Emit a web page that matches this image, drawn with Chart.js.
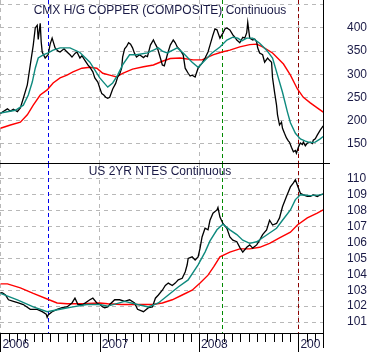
<!DOCTYPE html>
<html>
<head>
<meta charset="utf-8">
<script src="https://cdn.jsdelivr.net/npm/chart.js@4/dist/chart.umd.min.js"></script>
<style>
body { margin: 0; background: #fff; }
#quadro { position: relative; width: 371px; height: 352px; }
canvas { position: absolute; left: 0; }
#cobre { top: 0; }
#notas { top: 164px; }
</style>
</head>
<body>
<div id="quadro">
<canvas id="cobre" width="371" height="164"></canvas>
<canvas id="notas" width="371" height="188"></canvas>
</div>
<script>
// Dados (datas em ano decimal)

const anos = ['2006', '2007', '2008', '2009']

// Cobre - preço
const datasCobre = [
    2006.00, 2006.02, 2006.07, 2006.10, 2006.13, 2006.17, 2006.20, 2006.23, 2006.27, 2006.30,
    2006.33, 2006.35, 2006.37, 2006.38, 2006.40, 2006.41, 2006.42, 2006.45, 2006.48, 2006.50,
    2006.52, 2006.55, 2006.58, 2006.60, 2006.64, 2006.67, 2006.70, 2006.72, 2006.75, 2006.77,
    2006.80, 2006.82, 2006.85, 2006.88, 2006.90, 2006.93, 2006.95, 2006.98, 2007.00, 2007.02,
    2007.04, 2007.06, 2007.08, 2007.10, 2007.13, 2007.16, 2007.18, 2007.20, 2007.22, 2007.23,
    2007.25, 2007.27, 2007.29, 2007.31, 2007.33, 2007.35, 2007.37, 2007.40, 2007.44, 2007.46,
    2007.48, 2007.51, 2007.54, 2007.56, 2007.58, 2007.61, 2007.63, 2007.65, 2007.68, 2007.71,
    2007.74, 2007.76, 2007.78, 2007.81, 2007.84, 2007.86, 2007.89, 2007.91, 2007.93, 2007.96,
    2007.99, 2008.03, 2008.06, 2008.09, 2008.11, 2008.14, 2008.16, 2008.18, 2008.21, 2008.24,
    2008.26, 2008.28, 2008.31, 2008.34, 2008.36, 2008.38, 2008.41, 2008.44, 2008.46, 2008.48,
    2008.49, 2008.51, 2008.54, 2008.56, 2008.58, 2008.59, 2008.61, 2008.64, 2008.66, 2008.69,
    2008.71, 2008.73, 2008.74, 2008.76, 2008.78, 2008.79, 2008.81, 2008.83, 2008.84, 2008.86,
    2008.88, 2008.90, 2008.91, 2008.93, 2008.95, 2008.97, 2008.98, 2009.00, 2009.02, 2009.04,
    2009.05, 2009.07, 2009.09, 2009.12, 2009.14, 2009.15, 2009.17, 2009.19, 2009.22, 2009.25
]
const precoCobre = [
    215, 218, 225, 220, 224, 219, 227, 248, 277, 320,
    363, 400, 406, 375, 410, 370, 348, 335, 342, 365,
    378, 357, 350, 348, 355, 348, 342, 337, 345, 348,
    335, 340, 330, 320, 315, 305, 292, 283, 270, 258,
    255, 250, 248, 250, 268, 280, 294, 300, 313, 337,
    355, 360, 368, 365, 357, 345, 337, 342, 336, 340,
    338, 363, 374, 365, 357, 335, 320, 318, 342, 363,
    374, 368, 359, 352, 342, 313, 302, 296, 298, 294,
    313, 324, 335, 348, 363, 385, 398, 396, 378, 389,
    398, 400, 396, 385, 380, 374, 368, 380, 378, 390,
    412, 378, 374, 376, 370, 357, 346, 342, 326, 335,
    330, 326, 292, 261, 233, 212, 190, 196, 183, 172,
    162, 155, 153, 142, 132, 135, 129, 142, 151, 148,
    153, 145, 151, 153, 150, 157, 160, 168, 179, 188
]

// Cobre - média curta (verde)
const datasMediaCurtaCobre = [
    2006.00, 2006.15, 2006.23, 2006.28, 2006.32, 2006.35, 2006.38, 2006.43, 2006.48, 2006.53,
    2006.60, 2006.70, 2006.80, 2006.90, 2007.00, 2007.08, 2007.13, 2007.18, 2007.23, 2007.30,
    2007.37, 2007.48, 2007.54, 2007.59, 2007.63, 2007.68, 2007.78, 2007.84, 2007.93, 2007.99,
    2008.04, 2008.13, 2008.21, 2008.28, 2008.34, 2008.39, 2008.43, 2008.48, 2008.54, 2008.61,
    2008.68, 2008.74, 2008.79, 2008.84, 2008.89, 2008.92, 2008.97, 2009.02, 2009.07, 2009.12,
    2009.17, 2009.22, 2009.25
]
const mediaCurtaCobre = [
    216, 222, 233, 255, 283, 313, 335, 342, 346, 352,
    357, 357, 347, 326, 292, 272, 281, 298, 320, 342,
    342, 346, 352, 357, 350, 346, 357, 346, 326, 315,
    326, 346, 359, 374, 380, 378, 372, 378, 378, 367,
    352, 335, 298, 261, 218, 195, 172, 160, 155, 152,
    153, 160, 165
]

// Cobre - média longa (vermelha)
const datasMediaLongaCobre = [
    2006.00, 2006.10, 2006.20, 2006.27, 2006.33, 2006.40, 2006.47, 2006.53, 2006.60, 2006.67,
    2006.73, 2006.82, 2006.90, 2006.97, 2007.03, 2007.10, 2007.17, 2007.23, 2007.33, 2007.44,
    2007.54, 2007.63, 2007.71, 2007.81, 2007.94, 2008.03, 2008.14, 2008.23, 2008.31, 2008.41,
    2008.51, 2008.58, 2008.64, 2008.74, 2008.85, 2008.92, 2008.99, 2009.05, 2009.12, 2009.19,
    2009.25
]
const mediaLongaCobre = [
    183, 190, 196, 212, 233, 255, 266, 281, 292, 298,
    305, 313, 315, 313, 302, 298, 294, 302, 311, 316,
    320, 328, 334, 335, 331, 331, 342, 348, 352, 359,
    364, 365, 359, 346, 322, 298, 268, 250, 238, 227,
    218
]

// Notas de 2 anos - preço
const datasNotas = [
    2006.00, 2006.02, 2006.05, 2006.08, 2006.13, 2006.18, 2006.23, 2006.30, 2006.37, 2006.42,
    2006.46, 2006.47, 2006.48, 2006.52, 2006.57, 2006.62, 2006.67, 2006.72, 2006.75, 2006.78,
    2006.83, 2006.90, 2006.93, 2006.97, 2007.00, 2007.03, 2007.05, 2007.08, 2007.10, 2007.15,
    2007.20, 2007.25, 2007.30, 2007.35, 2007.38, 2007.44, 2007.49, 2007.53, 2007.56, 2007.59,
    2007.63, 2007.66, 2007.69, 2007.73, 2007.76, 2007.79, 2007.83, 2007.86, 2007.88, 2007.89,
    2007.93, 2007.96, 2007.99, 2008.01, 2008.03, 2008.06, 2008.09, 2008.11, 2008.14, 2008.18,
    2008.19, 2008.21, 2008.24, 2008.28, 2008.31, 2008.34, 2008.38, 2008.41, 2008.44, 2008.48,
    2008.51, 2008.54, 2008.58, 2008.61, 2008.64, 2008.68, 2008.71, 2008.74, 2008.78, 2008.81,
    2008.84, 2008.88, 2008.92, 2008.95, 2008.97, 2008.99, 2009.02, 2009.05, 2009.09, 2009.12,
    2009.15, 2009.19, 2009.22, 2009.25
]
const precoNotas = [
    102.85, 102.83, 102.7, 102.4, 102.3, 102.2, 102.1, 101.8, 101.8, 101.65,
    101.5, 101.3, 101.45, 101.65, 101.8, 101.9, 101.95, 102.2, 102.5, 102.1,
    102.1, 102.4, 102.5, 102.2, 102.1, 101.95, 101.9, 101.95, 102.1, 102.4,
    102.4, 102.3, 102.4, 102.2, 101.8, 101.65, 101.9, 101.95, 102.5, 102.7,
    103.0, 103.3, 103.45, 103.3, 103.45, 103.65, 103.75, 104.15, 104.6, 105.0,
    105.1, 104.9, 105.1, 105.65, 106.35, 106.9, 106.8, 107.4, 107.85, 108.05,
    108.2, 107.6, 107.2, 106.9, 106.35, 106.15, 106.05, 105.7, 105.4, 105.7,
    105.85, 105.65, 105.85, 106.15, 106.5, 106.8, 107.4, 107.1, 107.2, 107.55,
    108.25, 108.9, 109.5, 109.75, 109.95, 109.6, 109.1, 109.0, 108.9, 108.9,
    109.0, 108.9, 109.0, 109.05
]

// Notas - média curta (verde)
const datasMediaCurtaNotas = [
    2006.00, 2006.17, 2006.33, 2006.47, 2006.60, 2006.73, 2006.87, 2007.00, 2007.08, 2007.25,
    2007.38, 2007.49, 2007.59, 2007.69, 2007.79, 2007.89, 2007.99, 2008.06, 2008.11, 2008.18,
    2008.24, 2008.31, 2008.38, 2008.44, 2008.51, 2008.58, 2008.64, 2008.71, 2008.78, 2008.84,
    2008.92, 2008.97, 2009.02, 2009.12, 2009.22, 2009.25
]
const mediaCurtaNotas = [
    102.8, 102.4, 101.95, 101.65, 101.8, 101.95, 102.1, 102.1, 102.0, 102.3,
    102.1, 101.95, 102.2, 102.7, 103.2, 103.65, 104.6, 105.4, 106.1, 106.8,
    107.15, 106.8, 106.5, 106.15, 105.95, 106.05, 106.3, 106.6, 106.9, 107.4,
    108.05, 108.7, 109.0, 108.95, 109.0, 109.05
]

// Notas - média longa (vermelha)
const datasMediaLongaNotas = [
    2006.00, 2006.07, 2006.20, 2006.33, 2006.47, 2006.57, 2006.67, 2006.83, 2007.00, 2007.08,
    2007.22, 2007.38, 2007.53, 2007.63, 2007.73, 2007.83, 2007.93, 2008.01, 2008.09, 2008.15,
    2008.21, 2008.31, 2008.41, 2008.51, 2008.61, 2008.71, 2008.81, 2008.92, 2008.99, 2009.09,
    2009.19, 2009.25
]
const mediaLongaNotas = [
    103.4, 103.4, 103.15, 102.8, 102.45, 102.2, 102.15, 102.15, 102.2, 102.15,
    102.1, 102.1, 102.1, 102.2, 102.4, 102.7, 103.0, 103.45, 103.95, 104.5,
    105.1, 105.4, 105.6, 105.6, 105.7, 105.95, 106.3, 106.65, 107.1, 107.55,
    107.85, 108.05
]

// Eixos da direita
const ticksCobre = [150, 200, 250, 300, 350, 400, 450]
const rotulosCobre = ['150', '200', '250', '300', '350', '400', '']
const ticksNotas = [101, 102, 103, 104, 105, 106, 107, 108, 109, 110]
const rotulosNotas = ['101', '102', '103', '104', '105', '106', '107', '108', '109', '110']

// Linhas verticais tracejadas
const datasMarcadores = [2006.48, 2008.23, 2009.00]
const coresMarcadores = ['#0000ee', '#008a00', '#8b0000']

// Estilo

const corTexto = '#1a1a46'
const fonte = '"Liberation Sans", Arial, sans-serif'
const corGrade = '#b8b8b8'

function pares(datas, valores){
    const pontos = []
    for(let i = 0; i < datas.length; i++){
        pontos.push({ x: datas[i], y: valores[i] })
    }
    return pontos
}

function serie(datas, valores, cor, largura){
    return {
        data: pares(datas, valores),
        borderColor: cor,
        borderWidth: largura,
        pointRadius: 0,
        tension: 0,
        fill: false
    }
}

function escalaX(comEixo){
    return {
        type: 'linear',
        min: 2005.995,
        max: 2009.248,
        afterBuildTicks: s => { s.ticks = anos.map(a => ({ value: Number(a) })) },
        afterFit: s => {
            s.height = comEixo ? 19 : 0
            s.paddingLeft = 0
            s.paddingRight = 0
        },
        ticks: { display: false },
        grid: { color: corGrade, drawTicks: false },
        border: { display: comEixo, color: '#000', width: 1, dash: [4, 4] }
    }
}

function escalaY(min, max, ticks, rotulos){
    return {
        position: 'right',
        min: min,
        max: max,
        afterFit: s => {
            // sem folga em cima e embaixo: o gráfico ocupa toda a altura
            s.width = 48
            s.paddingTop = 0
            s.paddingBottom = 0
        },
        afterBuildTicks: s => { s.ticks = ticks.map(v => ({ value: v })) },
        ticks: {
            autoSkip: false,
            padding: 18,
            color: corTexto,
            font: { family: fonte, size: 12 },
            callback: (v, i) => rotulos[i]
        },
        grid: { color: corGrade, tickLength: 6, tickColor: 'rgba(0,0,0,0)' },
        border: { display: true, color: '#000', width: 1, dash: [4, 4] }
    }
}

// plugin com títulos, marcadores e eixo de datas

const extras = {
    id: 'extras',
    beforeDatasetsDraw(chart){
        const ctx = chart.ctx
        const a = chart.chartArea
        const x = chart.scales.x

        ctx.save()
        ctx.lineWidth = 1
        ctx.setLineDash([4, 3])
        for(let i = 0; i < datasMarcadores.length; i++){
            const px = Math.round(x.getPixelForValue(datasMarcadores[i])) + 0.5
            ctx.strokeStyle = coresMarcadores[i]
            ctx.beginPath()
            ctx.moveTo(px, a.top)
            ctx.lineTo(px, a.bottom)
            ctx.stroke()
        }
        ctx.restore()
    },
    afterDraw(chart, args, opts){
        const ctx = chart.ctx
        const a = chart.chartArea
        const x = chart.scales.x

        ctx.save()
        ctx.font = '12px ' + fonte
        ctx.fillStyle = corTexto
        ctx.textAlign = 'center'
        ctx.textBaseline = 'middle'
        ctx.fillText(opts.titulo, 160, a.top + opts.tituloY)

        ctx.strokeStyle = '#000'
        ctx.lineWidth = 1
        ctx.setLineDash([])

        if(opts.separador){
            ctx.beginPath()
            ctx.moveTo(0, a.bottom - 0.5)
            ctx.lineTo(a.right + 7, a.bottom - 0.5)
            ctx.stroke()
        }

        if(opts.eixoX){
            const base = a.bottom

            // marcas mensais e anuais
            for(const ano of anos){
                for(let m = 0; m < 12; m++){
                    const v = Number(ano) + m / 12
                    if(v < x.min || v > x.max){
                        continue
                    }
                    const px = Math.round(x.getPixelForValue(v)) + 0.5
                    ctx.beginPath()
                    ctx.moveTo(px, base)
                    ctx.lineTo(px, base + (m === 0 ? 19 : 9))
                    ctx.stroke()
                }
            }

            ctx.beginPath()
            ctx.moveTo(a.right + 0.5, base)
            ctx.lineTo(a.right + 0.5, base + 15)
            ctx.stroke()

            // rótulos dos anos, cortados antes da borda do gráfico
            ctx.beginPath()
            ctx.rect(0, base, a.right - 2, 19)
            ctx.clip()
            ctx.textAlign = 'left'
            for(const ano of anos){
                ctx.fillText(ano, x.getPixelForValue(Number(ano)) + 2, base + 12)
            }
        }
        ctx.restore()
    }
}

function opcoes(min, max, ticks, rotulos, titulo, tituloY, eixoX){
    return {
        responsive: false,
        animation: false,
        layout: { padding: 0 },
        plugins: {
            legend: { display: false },
            tooltip: { enabled: false },
            extras: { titulo: titulo, tituloY: tituloY, eixoX: eixoX, separador: !eixoX }
        },
        scales: {
            x: escalaX(eixoX),
            y: escalaY(min, max, ticks, rotulos)
        }
    }
}

const corCurta = '#0e8a7e'
const corLonga = '#ff0000'

new Chart(document.getElementById('cobre'), {
    type: 'line',
    data: {
        datasets: [
            serie(datasMediaCurtaCobre, mediaCurtaCobre, corCurta, 1.4),
            serie(datasCobre, precoCobre, '#000', 1.3),
            serie(datasMediaLongaCobre, mediaLongaCobre, corLonga, 1.4)
        ]
    },
    options: opcoes(105.6, 460.6, ticksCobre, rotulosCobre, 'CMX H/G COPPER (COMPOSITE) Continuous', 11, false),
    plugins: [extras]
})

new Chart(document.getElementById('notas'), {
    type: 'line',
    data: {
        datasets: [
            serie(datasMediaCurtaNotas, mediaCurtaNotas, corCurta, 1.4),
            serie(datasNotas, precoNotas, '#000', 1.3),
            serie(datasMediaLongaNotas, mediaLongaNotas, corLonga, 1.4)
        ]
    },
    options: opcoes(100.31, 110.94, ticksNotas, rotulosNotas, 'US 2YR NTES Continuous', 8, true),
    plugins: [extras]
})
</script>
</body>
</html>
